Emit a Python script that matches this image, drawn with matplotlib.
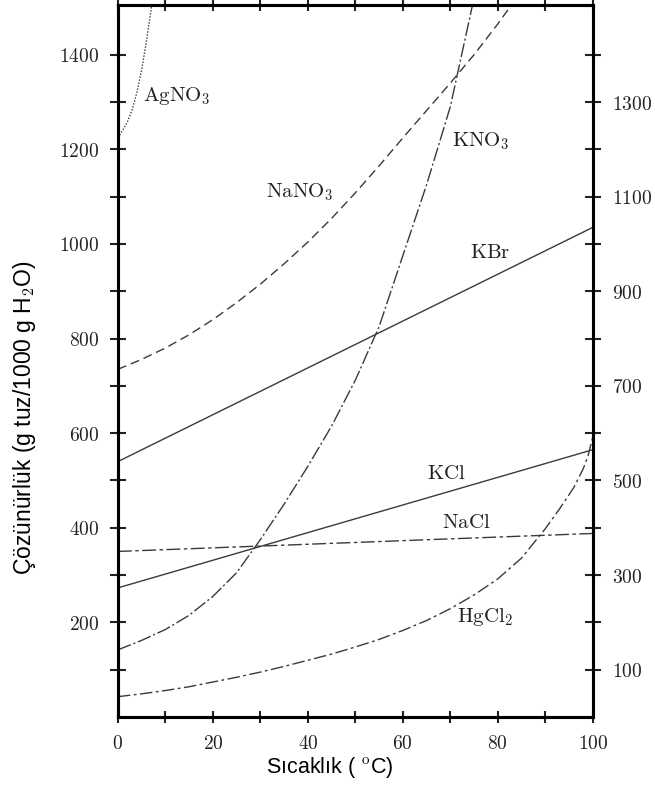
import numpy as np
import matplotlib
matplotlib.use("Agg")
import matplotlib.pyplot as plt
from matplotlib.ticker import FixedLocator, FixedFormatter

plt.rcParams['mathtext.fontset'] = 'cm'
plt.rcParams['lines.scale_dashes'] = False

# solubility curves (temperature C, g salt / 1000 g water)
agno3_t = [0, 1, 2, 3, 4, 5, 6, 7, 8]
agno3_s = [1225, 1240, 1258, 1284, 1320, 1368, 1428, 1496, 1570]

nano3_t = [0, 5, 10, 15, 20, 25, 30, 35, 40, 45, 50, 55, 60, 65, 70, 75, 80, 85]
nano3_s = [735, 756, 780, 808, 840, 876, 915, 958, 1004, 1054, 1108, 1165, 1224,
           1282, 1340, 1400, 1465, 1535]

kno3_t = [0, 5, 10, 15, 20, 25, 30, 35, 40, 45, 50, 55, 60, 65, 70, 75, 76]
kno3_s = [142, 162, 185, 215, 255, 305, 375, 450, 530, 615, 712, 825, 975, 1125,
          1290, 1520, 1570]

kbr_t = [0, 100]
kbr_s = [540, 1035]

kcl_t = [0, 100]
kcl_s = [273, 565]

nacl_t = [0, 100]
nacl_s = [350, 388]

hgcl2_t = [0, 5, 10, 15, 20, 25, 30, 35, 40, 45, 50, 55, 60, 65, 70, 75, 80, 85,
           90, 93, 96, 98, 99, 100]
hgcl2_s = [43, 49, 56, 64, 74, 84, 95, 107, 120, 133, 148, 164, 183, 204, 229, 258,
           292, 336, 398, 440, 485, 525, 552, 592]

# label text and anchor (left edge, middle)
labels = [r'$\mathrm{AgNO_3}$', r'$\mathrm{NaNO_3}$', r'$\mathrm{KNO_3}$', r'$\mathrm{KBr}$',
          r'$\mathrm{KCl}$', r'$\mathrm{NaCl}$', r'$\mathrm{HgCl_2}$']
label_x = [5.3, 31.2, 70.3, 74.1, 65.0, 68.2, 71.4]
label_y = [1312, 1109, 1217, 982, 516, 413, 212]

x_ticks = list(range(0, 101, 10))
x_ticklabels = [str(t) if t % 20 == 0 else '' for t in x_ticks]
y_ticks = list(range(100, 1401, 100))
y_left_labels = [str(t) if t % 200 == 0 else '' for t in y_ticks]
y_right_labels = [str(t) if t % 200 == 100 else '' for t in y_ticks]

col = '#3a3a3a'
fig = plt.figure(figsize=(6.55, 7.85), dpi=100)
ax = fig.add_axes([0.180, 0.0866, 0.725, 0.907])

lw = 1.0
ax.plot(agno3_t, agno3_s, color=col, lw=lw, dashes=(1.0, 1.2))
ax.plot(nano3_t, nano3_s, color=col, lw=lw, dashes=(6.5, 3.5))
ax.plot(kno3_t, kno3_s, color=col, lw=lw, dashes=(10, 2, 1.5, 2))
ax.plot(kbr_t, kbr_s, color=col, lw=lw)
ax.plot(kcl_t, kcl_s, color=col, lw=lw)
ax.plot(nacl_t, nacl_s, color=col, lw=lw, dashes=(10, 2.5, 2.5, 2.5))
ax.plot(hgcl2_t, hgcl2_s, color=col, lw=lw, dashes=(9, 2.5, 2, 2.5))

for txt, x, y in zip(labels, label_x, label_y):
    ax.text(x, y, txt, fontsize=15, color='#222222', ha='left', va='center')

ax.set_xlim(0, 100)
ax.set_ylim(0, 1505)

for s in ax.spines.values():
    s.set_linewidth(2.2)

ax.xaxis.set_major_locator(FixedLocator(x_ticks))
ax.xaxis.set_major_formatter(FixedFormatter([('$%s$' % l) if l else '' for l in x_ticklabels]))
ax.yaxis.set_major_locator(FixedLocator(y_ticks))
ax.yaxis.set_major_formatter(FixedFormatter([('$%s$' % l) if l else '' for l in y_left_labels]))
ax.tick_params(axis='x', direction='inout', length=9, width=1.5, top=True, bottom=True,
               labelsize=14, pad=8, colors='#222222')
ax.tick_params(axis='y', direction='inout', length=11, width=1.5, left=True, right=False,
               labelsize=14, pad=8, colors='#222222')

ax2 = ax.twinx()
ax2.set_ylim(ax.get_ylim())
ax2.yaxis.set_major_locator(FixedLocator(y_ticks))
ax2.yaxis.set_major_formatter(FixedFormatter([('$%s$' % l) if l else '' for l in y_right_labels]))
ax2.tick_params(axis='y', direction='inout', length=11, width=1.5, labelsize=14, pad=8,
                colors='#222222')
for s in ax2.spines.values():
    s.set_linewidth(2.2)

fig.text(330 / 655, 1 - 768 / 785, 'Sıcaklık ( $^{\\mathrm{o}}$C)', family='Liberation Sans',
         fontsize=15.5, ha='center', va='center')
fig.text(25 / 655, 1 - 418 / 785, 'Çözünürlük (g tuz/1000 g H$_2$O)', family='Liberation Sans',
         fontsize=16.5, rotation=90, ha='center', va='center')

fig.savefig('out.png', dpi=100)
